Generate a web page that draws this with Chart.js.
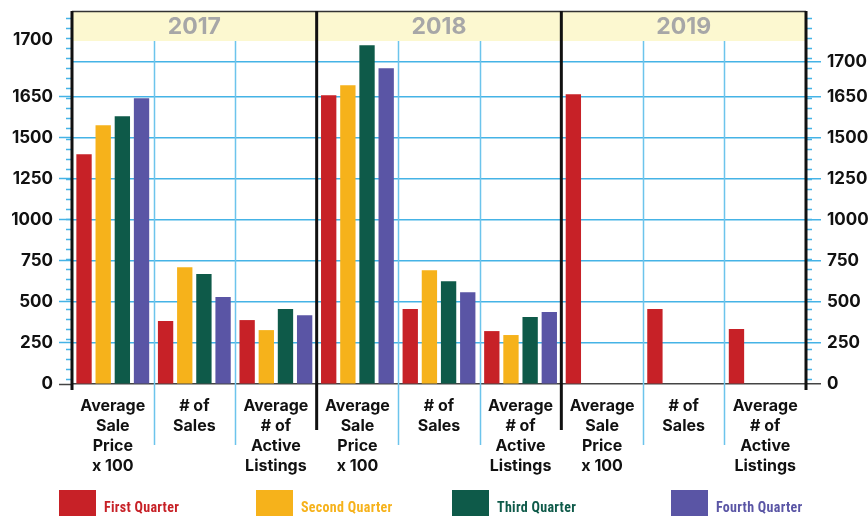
<!DOCTYPE html>
<html>
<head>
<meta charset="utf-8">
<script src="https://cdn.jsdelivr.net/npm/chart.js@4.4.1/dist/chart.umd.min.js"></script>
<style>
  html, body { margin: 0; padding: 0; background: #fff; }
  #wrap { position: relative; width: 868px; height: 516px; overflow: hidden; }
  #legend { position: absolute; left: 0; top: 490px; width: 868px; height: 26px; }
  .lg-item { position: absolute; top: 0; height: 26px; display: flex; align-items: center; gap: 8px;
             font: bold 14px 'Liberation Sans Narrow', 'Roboto Condensed', Roboto, sans-serif; letter-spacing: 0.3px; }
  .lg-item span:last-child { margin-top: 8px; }
  .lg-box { width: 37px; height: 26px; }
</style>
</head>
<body>
<div id="wrap">
  <canvas id="chart" width="868" height="516"></canvas>
  <div id="legend"></div>
</div>
<script>
const YEARS   = ['2017', '2018', '2019'];
const METRICS = [['Average', 'Sale', 'Price', 'x 100'], ['# of', 'Sales'], ['Average', '# of', 'Active', 'Listings']];
const CATEGORIES = YEARS.flatMap(() => METRICS);

const SERIES_NAMES  = ['First Quarter', 'Second Quarter', 'Third Quarter', 'Fourth Quarter'];
const SERIES_COLORS = ['#c72127', '#f6b21b', '#0e5a49', '#5a55a5'];

const Q1 = [1398, 383, 389, 1757, 456, 322, 1763, 456, 334];
const Q2 = [1574, 711, 328, 1818, 693, 298, null, null, null];
const Q3 = [1629, 669, 456, 2061, 626, 407, null, null, null];
const Q4 = [1739, 529, 419, 1921, 559, 438, null, null, null];

const LEFT_TICKS  = [0, 250, 500, 750, 1000, 1250, 1500, 1750, 2095];
const RIGHT_TICKS = [0, 250, 500, 750, 1000, 1250, 1500, 1750, 1960];
const TICK_LABELS = ['0', '250', '500', '750', '1000', '1250', '1500', '1650', '1700'];

const FONT   = "Inter, 'Open Sans', sans-serif";
const Y_MAX  = 2270;
const HEADER_H = 30;
const BLUE   = '#45b3e6';
const LEGEND_LEFT = [59, 256, 452, 671];

// band, year labels, separators and minor ticks, all placed from the scales
const frame = {
  id: 'frame',
  beforeDatasetsDraw(chart) {
    const { ctx, chartArea: a, scales: { x, y } } = chart;
    ctx.save();

    ctx.fillStyle = '#fcf8d0';
    ctx.fillRect(a.left, a.top, a.right - a.left, HEADER_H);

    // light blue separators between metrics
    ctx.strokeStyle = '#6cc4ec';
    ctx.lineWidth = 1.5;
    for (let i = 1; i < CATEGORIES.length; i++) {
      if (i % 3 === 0) continue;
      const px = Math.round(x.getPixelForValue(i - 0.5)) + 0.5;
      ctx.beginPath();
      ctx.moveTo(px, a.top + HEADER_H);
      ctx.lineTo(px, a.bottom + 61);
      ctx.stroke();
    }

    // minor ticks on both sides
    ctx.strokeStyle = BLUE;
    for (let v = 30; v < Y_MAX; v += 61) {
      const py = Math.round(y.getPixelForValue(v)) + 0.5;
      ctx.beginPath();
      ctx.moveTo(a.left - 6, py); ctx.lineTo(a.left, py);
      ctx.moveTo(a.right, py);    ctx.lineTo(a.right + 6, py);
      ctx.stroke();
    }

    // top rule
    ctx.strokeStyle = '#333';
    ctx.lineWidth = 1.5;
    ctx.beginPath();
    ctx.moveTo(a.left, a.top + 0.5);
    ctx.lineTo(a.right, a.top + 0.5);
    ctx.stroke();

    // year separators
    ctx.strokeStyle = '#111';
    ctx.lineWidth = 3;
    YEARS.concat(['end']).forEach((_, k) => {
      const px = x.getPixelForValue(k * 3 - 0.5);
      const outer = k === 0 || k === YEARS.length;
      ctx.beginPath();
      ctx.moveTo(px, a.top);
      ctx.lineTo(px, a.bottom + (outer ? 6 : 46));
      ctx.stroke();
    });

    // year labels
    ctx.fillStyle = '#a7a7a7';
    ctx.font = `bold 23px ${FONT}`;
    ctx.textAlign = 'center';
    ctx.textBaseline = 'middle';
    YEARS.forEach((yr, k) => {
      const cx = (x.getPixelForValue(k * 3 - 0.5) + x.getPixelForValue(k * 3 + 2.5)) / 2;
      ctx.fillText(yr, cx, a.top + HEADER_H / 2 + 1);
    });

    ctx.restore();
  },
};

const yTickColor = c => c.index === 0 ? '#444' : BLUE;

new Chart(document.getElementById('chart'), {
  type: 'bar',
  data: {
    labels: CATEGORIES,
    datasets: [Q1, Q2, Q3, Q4].map((d, i) => ({
      label: SERIES_NAMES[i],
      data: d,
      backgroundColor: SERIES_COLORS[i],
      borderWidth: 0,
      categoryPercentage: 0.94,
      barPercentage: 0.8,
      yAxisID: 'y',
    })),
  },
  options: {
    responsive: false,
    animation: false,
    layout: { padding: { top: 11 } },
    plugins: { legend: { display: false }, tooltip: { enabled: false } },
    scales: {
      x: {
        offset: true,
        grid: { display: false },
        border: { display: false },
        ticks: {
          autoSkip: false, maxRotation: 0, minRotation: 0, padding: 4,
          color: '#111', font: { family: FONT, size: 16, weight: 'bold', lineHeight: 1.25 },
        },
        afterFit: s => { s.height = 132; s.paddingLeft = 0; s.paddingRight = 0; },
      },
      y: {
        position: 'left', min: 0, max: Y_MAX,
        afterBuildTicks: s => { s.ticks = LEFT_TICKS.map(v => ({ value: v })); },
        ticks: {
          callback: (v, i) => TICK_LABELS[i], padding: 6,
          color: '#111', font: { family: FONT, size: 17, weight: 'bold' },
        },
        grid: {
          drawOnChartArea: false, tickLength: 13, tickWidth: 1.5,
          tickColor: c => c.index === LEFT_TICKS.length - 1 ? 'rgba(0,0,0,0)' : yTickColor(c),
        },
        border: { display: false },
        afterFit: s => { s.width = 72; s.paddingTop = 0; s.paddingBottom = 0; },
      },
      y2: {
        position: 'right', min: 0, max: Y_MAX,
        afterBuildTicks: s => { s.ticks = RIGHT_TICKS.map(v => ({ value: v })); },
        ticks: {
          callback: (v, i) => TICK_LABELS[i], padding: 6,
          color: '#111', font: { family: FONT, size: 17, weight: 'bold' },
        },
        grid: { color: yTickColor, tickColor: yTickColor, lineWidth: 1.5, tickWidth: 1.5, tickLength: 15 },
        border: { display: false },
        afterFit: s => { s.width = 62; s.paddingTop = 0; s.paddingBottom = 0; },
      },
    },
  },
  plugins: [frame],
});

document.getElementById('legend').innerHTML = SERIES_NAMES.map((name, i) => `
  <div class="lg-item" style="left:${LEGEND_LEFT[i]}px;color:${SERIES_COLORS[i]}">
    <span class="lg-box" style="background:${SERIES_COLORS[i]}"></span><span>${name}</span>
  </div>`).join('');
</script>
</body>
</html>
